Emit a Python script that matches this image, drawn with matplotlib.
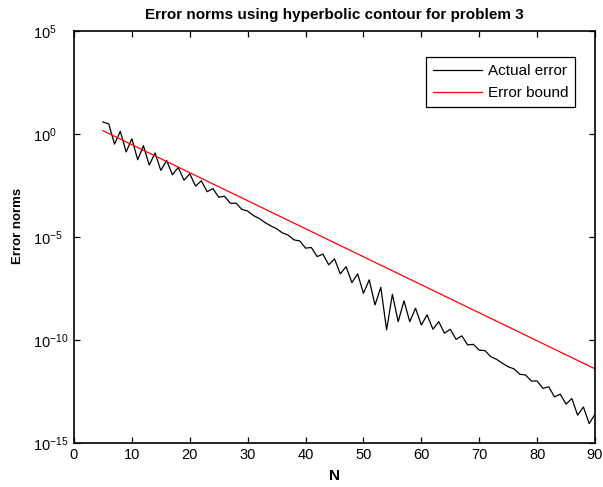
import numpy as np
import matplotlib
matplotlib.use("Agg")
import matplotlib.pyplot as plt
from matplotlib.ticker import NullLocator, FixedLocator

plt.rcParams['font.family'] = ['Liberation Sans', 'DejaVu Sans']
plt.rcParams['mathtext.fontset'] = 'custom'
plt.rcParams['mathtext.rm'] = 'Liberation Sans'

# Data
N_actual = list(range(5, 91))
actual_error_log10 = [
    0.58, 0.49, -0.49, 0.13, -0.87, -0.23, -1.25, -0.57, -1.51, -0.92,
    -1.77, -1.28, -1.98, -1.62, -2.24, -1.93, -2.53, -2.27, -2.80, -2.65,
    -3.07, -3.02, -3.36, -3.36, -3.66, -3.74, -3.96, -4.10, -4.30, -4.46,
    -4.60, -4.80, -4.91, -5.14, -5.19, -5.54, -5.51, -5.95, -5.83, -6.35,
    -6.06, -6.79, -6.44, -7.21, -6.79, -7.73, -7.08, -8.30, -7.44, -9.51,
    -7.78, -9.11, -8.10, -9.11, -8.46, -9.27, -8.78, -9.48, -9.11, -9.67,
    -9.48, -9.97, -9.80, -10.24, -10.21, -10.49, -10.52, -10.81, -10.94, -11.13,
    -11.30, -11.40, -11.66, -11.70, -11.99, -11.99, -12.35, -12.27, -12.76, -12.63,
    -13.11, -12.84, -13.65, -13.25, -14.06, -13.60,
]
N_bound = [5, 90]
bound_log10 = [0.16, -11.40]

title = "Error norms using hyperbolic contour for problem 3"
xlabel = "N"
ylabel = "Error norms"
legend_labels = ["Actual error", "Error bound"]
xticks = [0, 10, 20, 30, 40, 50, 60, 70, 80, 90]
yticks = [1e-15, 1e-10, 1e-5, 1e0, 1e5]

actual_error = [10.0 ** v for v in actual_error_log10]
bound = [10.0 ** v for v in bound_log10]

fig = plt.figure(figsize=(6.03, 4.87), dpi=100)
ax = fig.add_axes([74 / 603, 1 - 443 / 487, 521 / 603, 412 / 487])

ax.semilogy(N_actual, actual_error, color='black', linewidth=0.9, label=legend_labels[0])
ax.semilogy(N_bound, bound, color='red', linewidth=0.9, label=legend_labels[1])

ax.set_xlim(0, 90)
ax.set_ylim(1e-15, 1e5)
ax.xaxis.set_major_locator(FixedLocator(xticks))
ax.yaxis.set_major_locator(FixedLocator(yticks))
ax.yaxis.set_minor_locator(NullLocator())
ax.tick_params(which='both', direction='in', top=True, right=True, labelsize=10.5,
               length=4, width=0.9)
ax.tick_params(axis='y', pad=29.5)
for lab in ax.get_yticklabels():
    lab.set_horizontalalignment('left')
for s in ax.spines.values():
    s.set_linewidth(1.2)

ax.set_title(title, fontsize=11, fontweight='bold', pad=9)
ax.set_xlabel(xlabel, fontsize=11, fontweight='bold', labelpad=5)
ax.set_ylabel(ylabel, fontsize=9.5, fontweight='bold')
ax.yaxis.set_label_coords(-(74 - 24) / 521, (443 - 226) / 412)

leg = ax.legend(loc='upper right', bbox_to_anchor=((575 - 74) / 521, (443 - 57) / 412),
                borderaxespad=0, fancybox=False, edgecolor='black', framealpha=1,
                fontsize=11, handlelength=3.2, handletextpad=0.4, borderpad=0.45,
                labelspacing=0.55)
leg.get_frame().set_linewidth(0.9)

fig.savefig("out.png", dpi=100)
